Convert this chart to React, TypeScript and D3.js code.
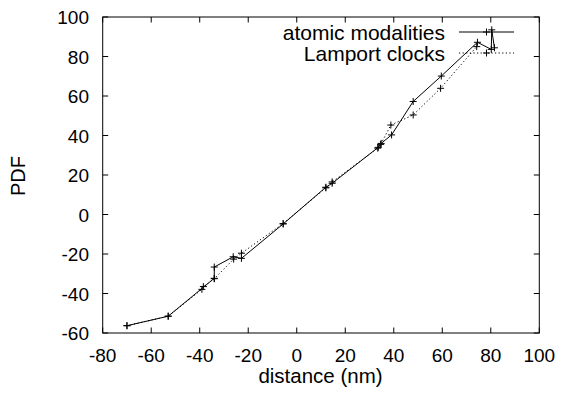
import React from "react";
import * as d3 from "d3";

const xTicks = [-80, -60, -40, -20, 0, 20, 40, 60, 80, 100];
const yTicks = [-60, -40, -20, 0, 20, 40, 60, 80, 100];

const seriesNames = ["atomic modalities", "Lamport clocks"];

const atomicX = [-70, -53, -34, -34, -26.2, -22.8, -5.6, 12, 14.6, 33.6, 34.8, 39.1, 48, 59.6, 74.5, 80.2, 80.4, 81.5];
const atomicY = [-56.3, -51.5, -32.3, -26.6, -21.4, -22.2, -4.8, 13.8, 15.8, 34, 36, 40.3, 57.2, 70.1, 87.2, 83.6, 93.5, 84.4];

const lamportX = [-70, -53, -39.1, -38.5, -34, -26, -22.8, -5.6, 12, 14.6, 33.4, 34.6, 38.8, 48, 59.3, 74.2];
const lamportY = [-56.3, -51.5, -37.9, -36.5, -32.5, -22.6, -19.6, -4.6, 13.5, 16.5, 33.6, 35.5, 45.3, 50.4, 63.9, 85];

const W = 562;
const H = 394;
const left = 102.7;
const right = 539.3;
const top = 17;
const bottom = 333;

const FONT = "'Liberation Sans', Arial, Helvetica, sans-serif";

function Plus({ cx, cy }: { cx: number; cy: number }) {
  const s = 3.5;
  return (
    <g stroke="#000" strokeWidth={1}>
      <line x1={cx - s} x2={cx + s} y1={cy} y2={cy} />
      <line x1={cx} x2={cx} y1={cy - s} y2={cy + s} />
    </g>
  );
}

export default function App() {
  const x = d3.scaleLinear().domain([-80, 100]).range([left, right]);
  const y = d3.scaleLinear().domain([-60, 100]).range([bottom, top]);
  const line = d3
    .line<[number, number]>()
    .x((d) => x(d[0]))
    .y((d) => y(d[1]));

  const atomic: [number, number][] = atomicX.map((v, i) => [v, atomicY[i]]);
  const lamport: [number, number][] = lamportX.map((v, i) => [v, lamportY[i]]);

  const tickLen = 5.5;
  const legendX1 = 459;
  const legendX2 = 514;
  const legendTextX = 445;
  const legendY = [32, 53];

  return (
    <svg
      width={W}
      height={H}
      style={{ position: "absolute", left: 0, top: 0, background: "#fff" }}
      fontFamily={FONT}
    >
      <rect x={0} y={0} width={W} height={H} fill="#fff" />
      {/* ticks */}
      <g stroke="#000" strokeWidth={1}>
        {xTicks.map((t) => (
          <g key={"xt" + t}>
            <line x1={x(t)} x2={x(t)} y1={bottom} y2={bottom - tickLen} />
            <line x1={x(t)} x2={x(t)} y1={top} y2={top + tickLen} />
          </g>
        ))}
        {yTicks.map((t) => (
          <g key={"yt" + t}>
            <line x1={left} x2={left + tickLen} y1={y(t)} y2={y(t)} />
            <line x1={right} x2={right - tickLen} y1={y(t)} y2={y(t)} />
          </g>
        ))}
      </g>
      {/* tick labels */}
      <g fontSize={19} fill="#000">
        {xTicks.map((t) => (
          <text key={"xl" + t} x={x(t)} y={362} textAnchor="middle">
            {t}
          </text>
        ))}
        {yTicks.map((t) => (
          <text key={"yl" + t} x={89} y={y(t) + 7} textAnchor="end">
            {t}
          </text>
        ))}
      </g>
      {/* axis titles */}
      <text x={320.5} y={383} fontSize={20.5} textAnchor="middle">
        distance (nm)
      </text>
      <text
        transform={`translate(25,176) rotate(-90)`}
        fontSize={20}
        textAnchor="middle"
      >
        PDF
      </text>
      {/* series */}
      <path d={line(lamport) || ""} fill="none" stroke="#000" strokeWidth={1} strokeDasharray="1.2,2.4" />
      {lamport.map((d, i) => (
        <Plus key={"lp" + i} cx={x(d[0])} cy={y(d[1])} />
      ))}
      <path d={line(atomic) || ""} fill="none" stroke="#000" strokeWidth={1} />
      {atomic.map((d, i) => (
        <Plus key={"ap" + i} cx={x(d[0])} cy={y(d[1])} />
      ))}
      {/* legend */}
      <g fontSize={21}>
        <text x={legendTextX} y={legendY[0] + 7.5} textAnchor="end">
          {seriesNames[0]}
        </text>
        <line x1={legendX1} x2={legendX2} y1={legendY[0]} y2={legendY[0]} stroke="#000" strokeWidth={1} />
        <Plus cx={(legendX1 + legendX2) / 2} cy={legendY[0]} />
        <text x={legendTextX} y={legendY[1] + 7.5} textAnchor="end">
          {seriesNames[1]}
        </text>
        <line
          x1={legendX1}
          x2={legendX2}
          y1={legendY[1]}
          y2={legendY[1]}
          stroke="#000"
          strokeWidth={1}
          strokeDasharray="1.2,2.4"
        />
        <Plus cx={(legendX1 + legendX2) / 2} cy={legendY[1]} />
      </g>
      {/* frame */}
      <rect x={left} y={top} width={right - left} height={bottom - top} fill="none" stroke="#000" strokeWidth={1} />
    </svg>
  );
}
